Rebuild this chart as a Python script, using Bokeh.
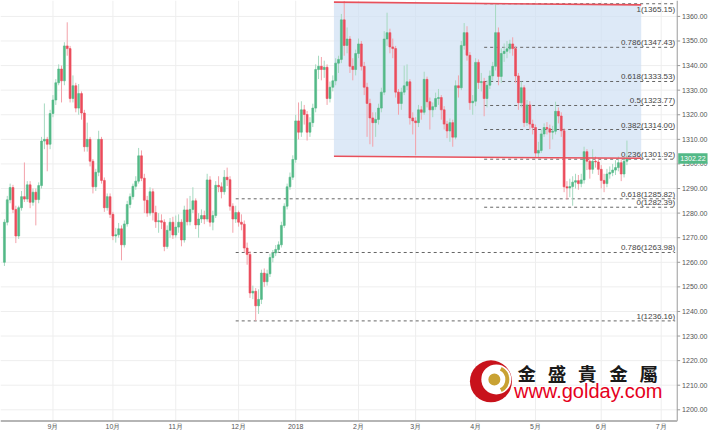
from bokeh.plotting import figure
from bokeh.models import ColumnDataSource, Range1d
from bokeh.embed import file_html
from bokeh.resources import INLINE
from bokeh.core.properties import value

# ---------------- data (daily candles, bar index 0..218) ----------------
opens = [
    1260.0, 1276.3, 1285.4, 1290.4, 1281.5, 1270.7, 1282.2, 1286.7, 1285.7, 1291.5,
    1284.4, 1288.5, 1285.5, 1291.2, 1309.3, 1310.0, 1308.0, 1320.5, 1326.0, 1333.0,
    1338.6, 1333.8, 1348.0, 1346.9, 1326.6, 1331.8, 1322.7, 1328.6, 1320.7, 1307.0,
    1310.0, 1301.1, 1290.7, 1296.6, 1310.0, 1293.3, 1282.2, 1286.7, 1279.5, 1270.7,
    1271.2, 1273.6, 1267.1, 1275.6, 1283.5, 1286.7, 1290.9, 1293.0, 1303.3, 1294.2,
    1285.2, 1280.0, 1288.7, 1280.2, 1276.5, 1276.9, 1276.3, 1266.4, 1273.0, 1276.3,
    1271.1, 1274.3, 1276.3, 1269.1, 1281.3, 1276.5, 1281.5, 1285.0, 1275.2, 1277.6,
    1279.0, 1277.6, 1293.5, 1276.3, 1279.0, 1291.3, 1290.7, 1288.7, 1294.6, 1293.6,
    1282.8, 1277.6, 1280.2, 1276.3, 1275.5, 1265.8, 1263.2, 1247.5, 1248.2, 1242.3,
    1244.9, 1255.6, 1252.1, 1255.3, 1261.9, 1263.8, 1265.2, 1267.1, 1275.0, 1282.8,
    1290.7, 1294.6, 1301.8, 1317.5, 1312.9, 1322.0, 1320.1, 1312.9, 1316.8, 1322.7,
    1338.4, 1339.7, 1338.4, 1339.3, 1326.6, 1331.2, 1333.8, 1341.0, 1342.5, 1358.6,
    1348.2, 1350.8, 1339.7, 1338.4, 1344.9, 1348.8, 1339.7, 1331.2, 1324.6, 1318.7,
    1316.8, 1318.1, 1322.7, 1329.2, 1350.8, 1353.4, 1347.6, 1346.9, 1329.2, 1324.6,
    1329.2, 1331.8, 1333.4, 1318.7, 1317.5, 1316.8, 1322.0, 1321.0, 1334.4, 1325.3,
    1322.0, 1323.3, 1326.6, 1327.0, 1322.0, 1316.2, 1313.4, 1316.8, 1310.9, 1331.8,
    1331.0, 1348.2, 1353.4, 1344.2, 1324.9, 1325.5, 1341.3, 1333.1, 1333.5, 1326.6,
    1332.0, 1335.8, 1339.7, 1353.4, 1335.6, 1344.9, 1345.8, 1346.8, 1348.8, 1346.9,
    1335.8, 1324.9, 1331.0, 1316.8, 1324.0, 1316.2, 1314.8, 1304.4, 1305.5, 1312.2,
    1314.8, 1314.3, 1312.9, 1313.3, 1321.4, 1319.5, 1313.5, 1290.7, 1290.2, 1290.8,
    1292.6, 1293.2, 1292.0, 1293.5, 1305.0, 1301.1, 1297.8, 1301.1, 1300.8, 1297.8,
    1293.3, 1292.0, 1295.9, 1296.5, 1297.5, 1298.5, 1300.5, 1295.9, 1301.1,
]
closes = [
    1276.3, 1285.4, 1290.4, 1281.5, 1270.7, 1282.2, 1286.7, 1285.7, 1291.5, 1284.4,
    1288.5, 1285.5, 1291.2, 1309.3, 1310.0, 1308.0, 1320.5, 1326.0, 1333.0, 1338.6,
    1333.8, 1348.0, 1346.9, 1326.6, 1331.8, 1322.7, 1328.6, 1320.7, 1307.0, 1310.0,
    1301.1, 1290.7, 1296.6, 1310.0, 1293.3, 1282.2, 1286.7, 1279.5, 1270.7, 1271.2,
    1273.6, 1267.1, 1275.6, 1283.5, 1286.7, 1290.9, 1293.0, 1303.3, 1294.2, 1285.2,
    1280.0, 1288.7, 1280.2, 1276.5, 1276.9, 1276.3, 1266.4, 1273.0, 1276.3, 1271.1,
    1274.3, 1276.3, 1269.1, 1281.3, 1276.5, 1281.5, 1285.0, 1275.2, 1277.6, 1279.0,
    1277.6, 1293.5, 1276.3, 1279.0, 1291.3, 1290.7, 1288.7, 1294.6, 1293.6, 1282.8,
    1277.6, 1280.2, 1276.3, 1275.5, 1265.8, 1263.2, 1247.5, 1248.2, 1242.3, 1244.9,
    1255.6, 1252.1, 1255.3, 1261.9, 1263.8, 1265.2, 1267.1, 1275.0, 1282.8, 1290.7,
    1294.6, 1301.8, 1317.5, 1312.9, 1322.0, 1320.1, 1312.9, 1316.8, 1322.7, 1338.4,
    1339.7, 1338.4, 1339.3, 1326.6, 1331.2, 1333.8, 1341.0, 1342.5, 1358.6, 1348.2,
    1350.8, 1339.7, 1338.4, 1344.9, 1348.8, 1339.7, 1331.2, 1324.6, 1318.7, 1316.8,
    1318.1, 1322.7, 1329.2, 1350.8, 1353.4, 1347.6, 1346.9, 1329.2, 1324.6, 1329.2,
    1331.8, 1333.4, 1318.7, 1317.5, 1316.8, 1322.0, 1321.0, 1334.4, 1325.3, 1322.0,
    1323.3, 1326.6, 1327.0, 1322.0, 1316.2, 1313.4, 1316.8, 1310.9, 1331.8, 1331.0,
    1348.2, 1353.4, 1344.2, 1324.9, 1325.5, 1341.3, 1333.1, 1333.5, 1326.6, 1332.0,
    1335.8, 1339.7, 1353.4, 1335.6, 1344.9, 1345.8, 1346.8, 1348.8, 1346.9, 1335.8,
    1324.9, 1331.0, 1316.8, 1324.0, 1316.2, 1314.8, 1304.4, 1305.5, 1312.2, 1314.8,
    1314.3, 1312.9, 1313.3, 1321.4, 1319.5, 1313.5, 1290.7, 1290.2, 1290.8, 1292.6,
    1293.2, 1292.0, 1293.5, 1305.0, 1301.1, 1297.8, 1301.1, 1300.8, 1297.8, 1293.3,
    1292.0, 1295.9, 1296.5, 1297.5, 1298.5, 1300.5, 1295.9, 1301.1, 1302.22,
]
highs = [
    1277.5, 1287.0, 1292.0, 1291.5, 1283.0, 1283.0, 1289.0, 1300.6, 1293.0, 1293.0,
    1290.0, 1290.0, 1292.5, 1311.0, 1324.6, 1311.0, 1322.0, 1328.0, 1334.5, 1340.5,
    1340.0, 1349.5, 1357.6, 1348.0, 1336.0, 1333.0, 1332.5, 1329.5, 1322.0, 1316.8,
    1311.0, 1302.0, 1298.0, 1313.5, 1311.0, 1294.5, 1288.0, 1288.0, 1280.5, 1274.0,
    1276.0, 1275.0, 1277.0, 1285.0, 1288.0, 1292.0, 1295.0, 1306.5, 1305.5, 1296.0,
    1287.0, 1290.5, 1290.0, 1283.0, 1280.0, 1279.5, 1277.5, 1275.0, 1278.0, 1278.5,
    1279.0, 1279.5, 1277.5, 1283.0, 1286.0, 1287.0, 1290.5, 1286.0, 1280.0, 1281.5,
    1281.0, 1296.0, 1295.0, 1281.0, 1293.0, 1295.0, 1292.5, 1297.5, 1298.5, 1295.0,
    1284.0, 1283.0, 1281.0, 1279.5, 1277.0, 1268.0, 1264.5, 1250.5, 1249.5, 1249.0,
    1257.0, 1257.5, 1257.0, 1263.5, 1265.0, 1267.0, 1268.5, 1276.5, 1284.0, 1292.0,
    1296.5, 1303.5, 1320.0, 1325.0, 1325.5, 1324.0, 1321.5, 1319.0, 1324.5, 1340.5,
    1344.0, 1343.5, 1342.0, 1340.5, 1333.5, 1336.0, 1343.0, 1344.0, 1361.0, 1366.3,
    1355.5, 1352.0, 1343.0, 1346.5, 1351.0, 1350.0, 1341.5, 1333.0, 1326.5, 1321.0,
    1321.0, 1324.5, 1331.0, 1354.0, 1361.5, 1355.0, 1351.0, 1348.0, 1330.5, 1331.0,
    1340.0, 1340.5, 1334.5, 1321.0, 1319.0, 1324.0, 1323.5, 1337.5, 1335.5, 1327.0,
    1325.0, 1329.0, 1330.5, 1328.0, 1323.5, 1317.5, 1318.5, 1318.0, 1334.0, 1336.0,
    1350.0, 1357.3, 1356.0, 1345.5, 1328.0, 1343.0, 1342.5, 1337.0, 1335.0, 1334.0,
    1338.0, 1341.5, 1365.0, 1355.5, 1347.0, 1349.0, 1350.0, 1350.5, 1351.5, 1348.0,
    1337.0, 1333.5, 1332.0, 1326.0, 1325.5, 1318.0, 1316.0, 1309.0, 1314.0, 1316.5,
    1317.0, 1316.0, 1315.5, 1325.3, 1323.0, 1321.0, 1314.5, 1293.0, 1294.0, 1295.0,
    1296.0, 1295.5, 1296.0, 1307.0, 1306.0, 1302.5, 1306.0, 1303.0, 1302.5, 1299.5,
    1296.0, 1298.0, 1299.0, 1300.0, 1301.5, 1303.0, 1302.0, 1303.0, 1309.5,
]
lows = [
    1258.5, 1275.0, 1284.0, 1280.0, 1267.8, 1269.5, 1281.0, 1284.5, 1284.5, 1282.0,
    1283.0, 1275.0, 1284.0, 1290.0, 1306.0, 1297.0, 1306.0, 1319.0, 1324.0, 1332.0,
    1325.0, 1332.0, 1344.0, 1325.0, 1325.0, 1321.0, 1320.0, 1318.0, 1305.0, 1305.0,
    1299.0, 1288.0, 1289.0, 1295.0, 1292.0, 1280.5, 1281.0, 1278.0, 1269.0, 1268.0,
    1270.0, 1260.8, 1266.0, 1274.5, 1282.0, 1285.5, 1289.5, 1292.0, 1293.0, 1280.0,
    1278.5, 1279.0, 1277.0, 1274.0, 1272.0, 1273.5, 1264.5, 1265.5, 1270.0, 1269.5,
    1270.0, 1272.0, 1266.5, 1268.0, 1275.0, 1275.0, 1280.0, 1273.5, 1270.0, 1276.0,
    1275.5, 1276.5, 1274.5, 1273.0, 1278.0, 1288.5, 1286.0, 1287.5, 1291.0, 1281.0,
    1272.0, 1276.0, 1274.5, 1273.0, 1264.0, 1259.0, 1245.5, 1245.0, 1236.2, 1239.0,
    1243.0, 1250.0, 1250.5, 1254.0, 1260.0, 1262.5, 1264.0, 1266.0, 1274.0, 1281.5,
    1289.5, 1293.5, 1300.5, 1310.0, 1311.0, 1316.0, 1309.5, 1311.0, 1315.0, 1321.0,
    1334.5, 1334.0, 1335.0, 1324.0, 1325.0, 1329.5, 1332.0, 1337.0, 1341.0, 1344.0,
    1345.0, 1337.0, 1334.0, 1336.0, 1343.0, 1338.0, 1328.0, 1311.0, 1308.0, 1307.0,
    1311.0, 1316.0, 1321.0, 1328.0, 1348.0, 1345.0, 1343.0, 1327.0, 1320.0, 1322.0,
    1328.0, 1330.0, 1316.0, 1312.0, 1303.5, 1315.0, 1318.0, 1320.0, 1323.0, 1314.0,
    1319.0, 1322.0, 1324.0, 1318.0, 1314.0, 1310.5, 1309.0, 1307.0, 1310.0, 1327.0,
    1330.0, 1346.5, 1342.0, 1322.0, 1320.0, 1323.5, 1330.5, 1329.5, 1319.4, 1323.0,
    1330.5, 1334.0, 1338.0, 1332.0, 1333.0, 1341.5, 1343.0, 1345.0, 1344.0, 1333.0,
    1322.0, 1323.0, 1315.0, 1315.5, 1314.0, 1312.0, 1302.5, 1302.5, 1304.5, 1311.0,
    1312.0, 1306.0, 1310.0, 1312.0, 1316.5, 1311.0, 1288.5, 1285.5, 1286.5, 1283.0,
    1290.0, 1289.5, 1290.5, 1292.0, 1297.5, 1294.0, 1296.0, 1298.5, 1295.5, 1290.0,
    1288.5, 1290.5, 1294.0, 1295.0, 1295.5, 1297.0, 1293.0, 1294.5, 1299.5,
]

# month axis (bar index of first trading day of each month)
month_ticks = [17, 38, 60, 82, 102, 124, 144, 165, 186, 209, 230]
month_labels = ["9月", "10月", "11月", "12月", "2018", "2月", "3月", "4月", "5月", "6月", "7月"]
price_ticks = [1200, 1210, 1220, 1230, 1240, 1250, 1260, 1270, 1280, 1290,
               1300, 1310, 1320, 1330, 1340, 1350, 1360]

# Fibonacci levels
fib_upper_levels = ["1", "0.786", "0.618", "0.5", "0.382", "0.236", "0"]
fib_upper_prices = [1365.15, 1347.43, 1333.53, 1323.77, 1314.00, 1301.92, 1282.39]
fib_upper_start = 168
fib_lower_levels = ["0.618", "0.786", "1"]
fib_lower_prices = [1285.82, 1263.98, 1236.16]
fib_lower_start = 81
fib_end = 234.9

# channel (shaded range)
channel_x = [115.4, 223.0]
channel_top = [1365.8, 1364.7]
channel_bottom = [1303.1, 1302.3]

last_price = 1302.22

# ---------------- geometry helpers (reference pixel -> data) ----------------
def px2x(px):
    return (px - 4) / 2.92

def py2y(py):
    return 1360 - (py - 16.5) / 2.55

X0, XR = px2x(0), px2x(725)
AX = px2x(692)          # price axis line
Y_TOP, Y_BOT = py2y(0), py2y(447)
YB = py2y(436)          # time axis line

UP, DOWN = "#53b987", "#eb4d5c"
UP_W, DOWN_W = "#a6d9c0", "#f3a2aa"
FONT = "Liberation Sans"

p = figure(width=709, height=431, x_range=Range1d(X0, XR), y_range=Range1d(Y_BOT, Y_TOP),
           output_backend="svg", toolbar_location=None,
           x_axis_location=None, y_axis_location=None,
           min_border_left=0, min_border_top=0, min_border_bottom=0, min_border_right=0)
p.outline_line_color = None
p.background_fill_color = "white"
p.border_fill_color = "white"
p.grid.visible = False

# grid
p.segment(x0=month_ticks, x1=month_ticks, y0=[YB] * len(month_ticks), y1=[Y_TOP] * len(month_ticks),
          line_color="#eeeeee", line_width=1)
p.segment(x0=[X0] * len(price_ticks), x1=[AX] * len(price_ticks), y0=price_ticks, y1=price_ticks,
          line_color="#eeeeee", line_width=1)

# shaded channel
p.patch(x=[channel_x[0], channel_x[1], channel_x[1], channel_x[0]],
        y=[channel_top[0], channel_top[1], channel_bottom[1], channel_bottom[0]],
        fill_color="#cfe0f4", fill_alpha=0.7, line_color=None)

# fib dashed lines
p.segment(x0=[fib_upper_start] * len(fib_upper_prices), x1=[fib_end] * len(fib_upper_prices),
          y0=fib_upper_prices, y1=fib_upper_prices,
          line_color="#666666", line_dash="3 3", line_width=1)
p.segment(x0=[fib_lower_start] * len(fib_lower_prices), x1=[fib_end] * len(fib_lower_prices),
          y0=fib_lower_prices, y1=fib_lower_prices,
          line_color="#666666", line_dash="3 3", line_width=1)

fib_text = [f"{l}({v:.2f})" for l, v in zip(fib_upper_levels, fib_upper_prices)] + \
           [f"{l}({v:.2f})" for l, v in zip(fib_lower_levels, fib_lower_prices)]
fib_y = fib_upper_prices + fib_lower_prices
# top label sits under its line so that it stays inside the chart
p.text(x=[fib_end], y=fib_y[:1], text=fib_text[:1], text_align="right", text_baseline="top",
       y_offset=1, text_font=value(FONT), text_font_size="8px", text_color="#444444")
p.text(x=[fib_end] * (len(fib_text) - 1), y=fib_y[1:], text=fib_text[1:],
       text_align="right", text_baseline="bottom", text_font=value(FONT),
       text_font_size="8px", text_color="#444444")

# candles
idx = list(range(len(closes)))
inc = [c >= o for o, c in zip(opens, closes)]
src = ColumnDataSource(dict(
    x=idx, h=highs, l=lows,
    top=[max(o, c) for o, c in zip(opens, closes)],
    bot=[min(o, c) for o, c in zip(opens, closes)],
    color=[UP if u else DOWN for u in inc],
    wick=[UP_W if u else DOWN_W for u in inc],
))
p.segment(x0="x", x1="x", y0="l", y1="h", line_color="wick", line_width=1, source=src)
p.vbar(x="x", width=0.68, top="top", bottom="bot", fill_color="color",
       line_color="color", line_width=0.6, source=src)

# channel border lines
p.line(channel_x, channel_top, line_color="#e8505b", line_width=1.6)
p.line(channel_x, channel_bottom, line_color="#e8505b", line_width=1.6)

# axes (drawn in the chart's own data space)
p.segment(x0=[AX], x1=[AX], y0=[YB], y1=[Y_TOP], line_color="#9a9a9a", line_width=1)
p.segment(x0=[X0], x1=[AX], y0=[YB], y1=[YB], line_color="#b5b5b5", line_width=2)
p.segment(x0=[AX] * len(price_ticks), x1=[px2x(695)] * len(price_ticks),
          y0=price_ticks, y1=price_ticks, line_color="#9a9a9a", line_width=1)
p.text(x=[px2x(697)] * len(price_ticks), y=price_ticks, text=[f"{v:.2f}" for v in price_ticks],
       text_align="left", text_baseline="middle", text_font=value(FONT),
       text_font_size="7px", text_color="#555555")
p.text(x=month_ticks, y=[py2y(441.5)] * len(month_ticks), text=month_labels,
       text_align="center", text_baseline="middle", text_font=value(FONT),
       text_font_size="7px", text_color="#555555")

# last price tag
p.quad(left=[px2x(693)], right=[px2x(723)], top=[last_price + 5.5 / 2.55],
       bottom=[last_price - 5.5 / 2.55], fill_color=UP, line_color=None)
p.text(x=[px2x(708)], y=[last_price], text=[f"{last_price:.2f}"], text_align="center",
       text_baseline="middle", text_font=value(FONT), text_font_size="7px", text_color="white")

# ---------------- watermark logo ----------------
p.scatter([px2x(501.5)], [py2y(395)], size=42, marker="circle", fill_color="#c8121b", line_color=None)
p.scatter([px2x(507)], [py2y(393)], size=30, marker="circle", fill_color="white", line_color=None)
p.annular_wedge(x=px2x(506), y=py2y(393), inner_radius=10, outer_radius=14,
                inner_radius_units="screen", outer_radius_units="screen",
                start_angle=-1.1, end_angle=1.1, fill_color="#c9a233", line_color=None)
p.scatter([px2x(505)], [py2y(393)], size=12, marker="circle", fill_color="#c9a233", line_color=None)

cn_px = [538, 569, 600, 632, 663]
p.text(x=[px2x(v) for v in cn_px], y=[py2y(386)] * 5, text=list("金盛貴金屬"),
       text_align="center", text_baseline="middle", text_font=value("Noto Sans CJK TC"),
       text_font_size="18.5px", text_font_style="bold", text_color="#1a1a1a")
p.text(x=[px2x(601)], y=[py2y(405)], text=["www.golday.com"], text_align="center",
       text_baseline="middle", text_font=value(FONT), text_font_size="20px",
       text_color="#e5001c")

open("out.html", "w").write(file_html(p, INLINE))
